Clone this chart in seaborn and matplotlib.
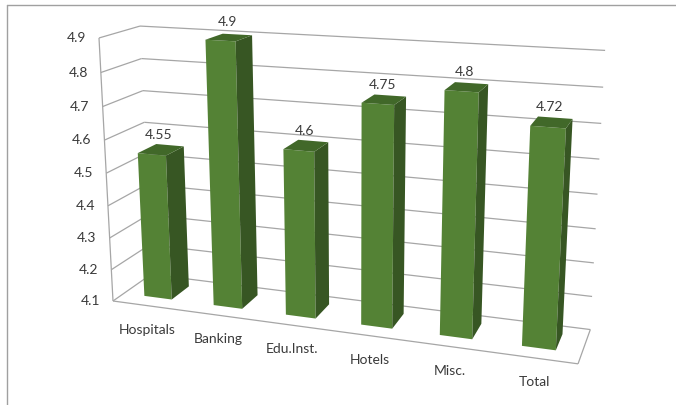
import numpy as np
import pandas as pd
import matplotlib
matplotlib.use("Agg")
import matplotlib.pyplot as plt
import matplotlib.transforms as mtransforms
from matplotlib.patches import Polygon
from matplotlib.lines import Line2D
import seaborn as sns

# ---------------- data ----------------
categories = ["Hospitals", "Banking", "Edu.Inst.", "Hotels", "Misc.", "Total"]
values = [4.55, 4.9, 4.6, 4.75, 4.8, 4.72]
y_ticks = [4.1, 4.2, 4.3, 4.4, 4.5, 4.6, 4.7, 4.8, 4.9]
y_tick_labels = ["4.1", "4.2", "4.3", "4.4", "4.5", "4.6", "4.7", "4.8", "4.9"]

# ---------------- style ----------------
W, H = 676, 405
Y_MIN, Y_MAX = 4.1, 4.9
FRONT = "#548235"
SIDE = "#375623"
TOP = "#416829"
GRID = "#A6A6A6"
TEXT = "#3A3A3A"
Z0, Z1 = 0.28, 0.76          # bar depth range (0 = front, 1 = back wall)

sns.set_style("white")
plt.rcParams["font.family"] = ["Lato", "DejaVu Sans"]

# ---------------- 3-point perspective camera (pixel space) ----------------
ORIGIN = np.array([113.0, 301.0])
VP_X, K_X = np.array([-3225.0, -150.0]), -0.02038
VP_Y, K_Y = np.array([353.0, 4810.0]), -0.0689
VP_Z, K_Z = np.array([764.0, -155.0]), 0.0621


def project(X, Y, Z):
    u = np.asarray(X, float) + 0.5
    v = np.asarray(Y, float) - Y_MIN
    z = np.asarray(Z, float)
    hx = ORIGIN[0] + K_X * u * VP_X[0] + K_Y * v * VP_Y[0] + K_Z * z * VP_Z[0]
    hy = ORIGIN[1] + K_X * u * VP_X[1] + K_Y * v * VP_Y[1] + K_Z * z * VP_Z[1]
    hw = 1.0 + K_X * u + K_Y * v + K_Z * z
    return np.column_stack([hx / hw, H - hy / hw])


class PlaneProj(mtransforms.Transform):
    """Maps 2-D coordinates lying in one plane of the 3-D box to display pixels."""
    input_dims = 2
    output_dims = 2
    is_separable = False
    has_inverse = False

    def __init__(self, plane, const):
        super().__init__()
        self.plane = plane
        self.const = const

    def transform_non_affine(self, values):
        v = np.asarray(values, float).reshape(-1, 2)
        a, b = v[:, 0], v[:, 1]
        c = np.full_like(a, self.const)
        if self.plane == "xy":      # (category x, value) at depth const
            return project(a, b, c)
        if self.plane == "zy":      # (depth, value) at category x const
            return project(c, b, a)
        return project(a, c, b)     # "xz": (category x, depth) at value const


# ---------------- figure ----------------
fig = plt.figure(figsize=(W / 100, H / 100), dpi=100)
ax = fig.add_axes([0, 0, 1, 1])
df = pd.DataFrame({"category": categories, "value": values})
sns.barplot(data=df, x="category", y="value", ax=ax, width=0.4, color=FRONT,
            saturation=1, errorbar=None, linewidth=0)
ax.set_axis_off()

x_lo, x_hi = -0.5, len(categories) - 0.5
grid_kw = dict(color=GRID, lw=0.9, clip_on=False, zorder=1, solid_capstyle="butt")

# back wall + left wall grid lines
for yt in y_ticks:
    ax.plot([x_lo, x_hi], [yt, yt], transform=PlaneProj("xy", 1.0), **grid_kw)
    ax.plot([0.0, 1.0], [yt, yt], transform=PlaneProj("zy", x_lo), **grid_kw)
# front-left vertical edge of the side wall
ax.plot([x_lo, x_lo], [Y_MIN, Y_MAX], transform=PlaneProj("xy", 0.0), **grid_kw)
# floor outline
ax.plot([x_lo, x_hi], [0.0, 0.0], transform=PlaneProj("xz", Y_MIN), **grid_kw)
ax.plot([x_hi, x_hi], [0.0, 1.0], transform=PlaneProj("xz", Y_MIN), **grid_kw)

# y tick labels
for yt, lab in zip(y_ticks, y_tick_labels):
    ax.annotate(lab, xy=(x_lo, yt), xycoords=PlaneProj("xy", 0.0),
                xytext=(-13, 0), textcoords="offset pixels",
                ha="right", va="center", fontsize=10, color=TEXT)

# bars: seaborn front faces reprojected + side and top faces
for i, p in enumerate(list(ax.patches)):
    x0, w = p.get_x(), p.get_width()
    top = p.get_y() + p.get_height()
    p.set_y(Y_MIN)
    p.set_height(top - Y_MIN)
    p.set_transform(PlaneProj("xy", Z0))
    p.set_clip_on(False)
    p.set_zorder(3)
    p.set_edgecolor("none")

    side = Polygon([(Z0, Y_MIN), (Z1, Y_MIN), (Z1, top), (Z0, top)], closed=True,
                   transform=PlaneProj("zy", x0 + w), facecolor=SIDE,
                   edgecolor="none", clip_on=False, zorder=3)
    ax.add_patch(side)
    cap = Polygon([(x0, Z0), (x0 + w, Z0), (x0 + w, Z1), (x0, Z1)], closed=True,
                  transform=PlaneProj("xz", top), facecolor=TOP,
                  edgecolor="none", clip_on=False, zorder=3)
    ax.add_patch(cap)

    xc = x0 + w / 2
    ax.annotate(f"{top:g}", xy=(xc, (Z0 + Z1) / 2), xycoords=PlaneProj("xz", top),
                xytext=(-2, 15), textcoords="offset pixels",
                ha="center", va="center", fontsize=10, color=TEXT, zorder=5)

# category labels below the floor front edge
for i, cat in enumerate(categories):
    ax.annotate(cat, xy=(i, Y_MIN), xycoords=PlaneProj("xy", 0.0),
                xytext=(0, -24), textcoords="offset pixels",
                ha="center", va="center", fontsize=10, color=TEXT)

# outer chart frame (top and left edges visible)
fig.add_artist(Line2D([7 / W, 1.0], [1 - 5 / H, 1 - 5 / H], transform=fig.transFigure,
                      color="#A0A0A0", lw=1.0))
fig.add_artist(Line2D([7 / W, 7 / W], [0.0, 1 - 5 / H], transform=fig.transFigure,
                      color="#A0A0A0", lw=1.0))

fig.savefig("out.png", dpi=100, facecolor="white")
